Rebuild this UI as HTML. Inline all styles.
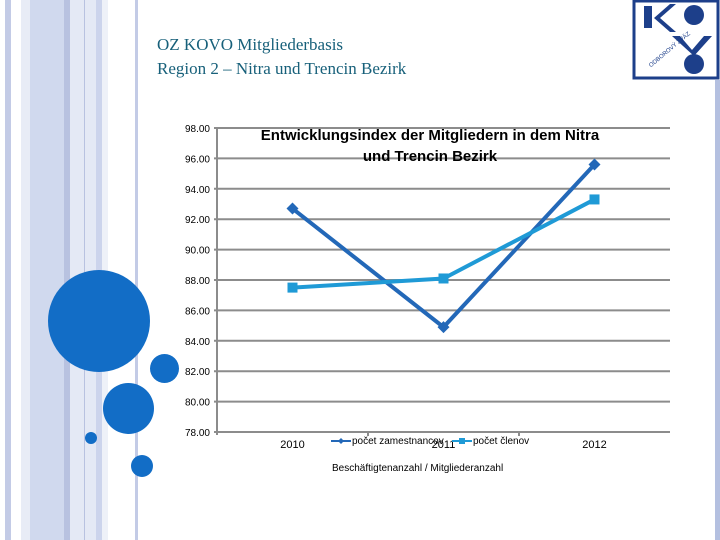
<!DOCTYPE html>
<html style="overflow:hidden;width:720px;height:540px"><head><meta charset="utf-8"><style>
body{margin:0;width:720px;height:540px;overflow:hidden;background:#fff;position:relative;font-family:"Liberation Sans",sans-serif}
.s{position:absolute;top:0;height:540px}
.c{position:absolute;border-radius:50%;background:#126dc6}
.t{position:absolute;left:157px;font-family:"Liberation Serif",serif;font-size:17px;color:#17607a}
</style></head><body>
<div class="s" style="left:5px;width:6px;background:#c3cbe6"></div>
<div class="s" style="left:21px;width:9px;background:#e8ecf6"></div>
<div class="s" style="left:30px;width:34px;background:#d0d9ee"></div>
<div class="s" style="left:64px;width:6px;background:#b8c2e0"></div>
<div class="s" style="left:70px;width:26px;background:#e4e9f5"></div>
<div class="s" style="left:84px;width:1px;background:#b8c2e0"></div>
<div class="s" style="left:96px;width:6px;background:#ccd4ec"></div>
<div class="s" style="left:102px;width:6px;background:#eef1f8"></div>
<div class="s" style="left:135px;width:3px;background:#c3cbe6"></div>
<div class="s" style="left:715px;width:5px;top:80px;height:460px;background:#b4c0e0"></div>
<div class="c" style="left:48px;top:270px;width:102px;height:102px"></div>
<div class="c" style="left:150px;top:354px;width:29px;height:29px"></div>
<div class="c" style="left:103px;top:383px;width:51px;height:51px"></div>
<div class="c" style="left:85px;top:432px;width:12px;height:12px"></div>
<div class="c" style="left:131px;top:455px;width:22px;height:22px"></div>
<div class="t" style="top:35px">OZ KOVO Mitgliederbasis</div>
<div class="t" style="top:59px">Region 2 – Nitra und Trencin Bezirk</div>
<svg style="position:absolute;left:632px;top:0" width="88" height="80">
<rect x="2" y="1" width="84" height="77" fill="#fff" stroke="#1d3f8a" stroke-width="3"/>
<rect x="12" y="6" width="8" height="22" fill="#1d3f8a"/>
<polygon points="22,18 38,4 44,4 28,18 44,32 38,32" fill="#1d3f8a"/>
<circle cx="62" cy="15" r="10" fill="#1d3f8a"/>
<polygon points="40,36 48,36 60,50 72,36 80,36 62,56" fill="#1d3f8a"/>
<circle cx="62" cy="64" r="10" fill="#1d3f8a"/>
<text x="14" y="62" font-size="6" fill="#1d3f8a" transform="rotate(-40 24 58)">ODBOROVÝ ZVÄZ</text>
</svg>
<svg id="ch" width="720" height="540" style="position:absolute;left:0;top:0"></svg>
<script>
const categories=["2010","2011","2012"];
const seriesA=[92.7,84.9,95.6];
const seriesB=[87.5,88.1,93.3];
const yTicks=[78,80,82,84,86,88,90,92,94,96,98];
const NS="http://www.w3.org/2000/svg",svg=document.getElementById('ch');
const x0=217,x1=670,yTop=128,yBot=432,ymin=78,ymax=98;
const y=v=>yBot-(v-ymin)/(ymax-ymin)*(yBot-yTop);
const bw=(x1-x0)/categories.length;
const x=i=>x0+bw*(i+0.5);
function mk(t,a,txt){const e=document.createElementNS(NS,t);for(const k in a)e.setAttribute(k,a[k]);if(txt!==undefined)e.textContent=txt;svg.appendChild(e);return e;}
yTicks.forEach(v=>{
 const g=mk('line',{x1:x0-3,x2:x1,y1:y(v),y2:y(v),stroke:'#8c8c8c','stroke-width':2});
 
 
 const t=mk('text',{x:210,y:y(v)+4,'text-anchor':'end','font-size':10,fill:'#000','font-family':'Liberation Sans'},v.toFixed(2));
 
 
});
const ax=mk('line',{x1:x0,x2:x0,y1:yTop,y2:yBot+3,stroke:'#8c8c8c','stroke-width':2});


for(let i=1;i<categories.length;i++){const tk=mk('line',{x1:x0+bw*i,x2:x0+bw*i,y1:yBot,y2:yBot+4,stroke:'#8c8c8c','stroke-width':2});
 
 }
categories.forEach((c,i)=>{const t=mk('text',{x:x(i),y:yBot+16,'text-anchor':'middle','font-size':11,'font-family':'Liberation Sans'},c);
 
 });
function series(d,col,sq,name){
 const p=mk('polyline',{points:d.map((v,i)=>x(i)+','+y(v)).join(' '),fill:'none',stroke:col,'stroke-width':4});
 
 
 d.forEach((v,i)=>{let m;
  if(sq)m=mk('rect',{x:x(i)-5,y:y(v)-5,width:10,height:10,fill:col});
  else m=mk('polygon',{points:`${x(i)},${y(v)-6} ${x(i)+6},${y(v)} ${x(i)},${y(v)+6} ${x(i)-6},${y(v)}`,fill:col});
  
  });
}
series(seriesA,'#2368b8',false,'series-zamestnancov');
series(seriesB,'#1f9ad6',true,'series-clenov');
const ti=mk('text',{x:430,y:140,'text-anchor':'middle','font-size':15,'font-weight':'bold','font-family':'Liberation Sans'},'Entwicklungsindex der Mitgliedern in dem Nitra');


const ti2=mk('text',{x:430,y:161,'text-anchor':'middle','font-size':15,'font-weight':'bold','font-family':'Liberation Sans'},'und Trencin Bezirk');


const l1=mk('line',{x1:331,x2:351,y1:441,y2:441,stroke:'#2368b8','stroke-width':2});


mk('polygon',{points:'341,438 344,441 341,444 338,441',fill:'#2368b8'});
const lt1=mk('text',{x:352,y:444,'font-size':10,'font-family':'Liberation Sans'},'počet zamestnancov');


const l2=mk('line',{x1:452,x2:472,y1:441,y2:441,stroke:'#1f9ad6','stroke-width':2});


mk('rect',{x:459,y:438,width:6,height:6,fill:'#1f9ad6'});
const lt2=mk('text',{x:473,y:444,'font-size':10,'font-family':'Liberation Sans'},'počet členov');


const xt=mk('text',{x:332,y:471,'font-size':10,'font-family':'Liberation Sans'},'Beschäftigtenanzahl / Mitgliederanzahl');


</script>
</body></html>
